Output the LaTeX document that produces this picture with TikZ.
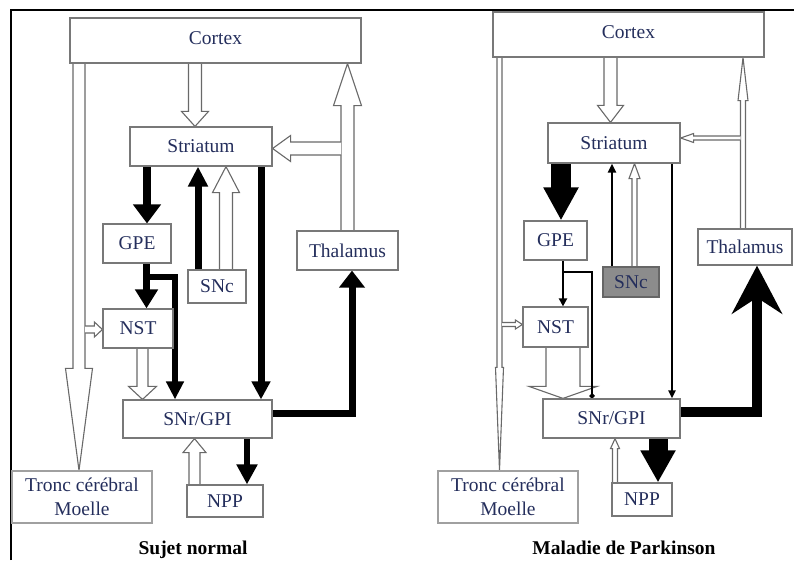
\documentclass[tikz,border=0pt]{standalone}
\usepackage{fontspec}
\setmainfont{Liberation Serif}
\usetikzlibrary{arrows.meta,calc,backgrounds}
\definecolor{boxgray}{RGB}{120,120,120}
\definecolor{lightbox}{RGB}{160,160,160}
\definecolor{arrgray}{RGB}{105,105,105}
\definecolor{navy}{RGB}{36,46,92}
\definecolor{sncgray}{RGB}{140,140,140}
\newcommand\nodefnt{\fontsize{19.5}{24}\selectfont}
\newcommand\capfnt{\fontsize{19.5}{24}\selectfont\bfseries}
\newcommand\hollowarrow[5]{%
  \coordinate (hs) at #1;
  \coordinate (ht) at #2;
  \coordinate (hh) at ($(ht)!#5!(hs)$);
  \draw[hol] ($(hs)!#3!90:(ht)$) -- ($(hh)!#3!90:(ht)$) -- ($(hh)!#4!90:(ht)$) -- (ht) -- ($(hh)!#4!-90:(ht)$) -- ($(hh)!#3!-90:(ht)$) -- ($(hs)!#3!-90:(ht)$);
}
\tikzset{
  box/.style={draw=boxgray, line width=1.2pt, fill=white, inner sep=0pt, text=navy, font=\nodefnt, align=center},
  hol/.style={draw=arrgray, fill=white, line width=1.1pt, line join=miter},
  blk/.style={draw=black, line join=miter, line cap=butt},
}
\begin{document}
\begin{tikzpicture}[x={(1pt,0)}, y={(0,-1pt)}]
\useasboundingbox (0,0) rectangle (794,560);
\draw[line width=2pt] (11,560) -- (11,10) -- (794,10);

% ---------------- left panel: nodes
\node[box, minimum width=291pt, minimum height=45pt] (ctxL) at (215.5,40.5) {\raisebox{4pt}{Cortex}};
\node[box, minimum width=142pt, minimum height=39pt] (strL) at (201,146.5) {Striatum};
\node[box, minimum width=68pt, minimum height=39pt] (gpeL) at (137,243.5) {GPE};
\node[box, minimum width=58pt, minimum height=33pt] (sncL) at (217,286.5) {SNc};
\node[box, minimum width=101pt, minimum height=39pt] (thalL) at (347.5,250.5) {Thalamus};
\node[box, minimum width=70pt, minimum height=39pt] (nstL) at (138,328.5) {NST};
\node[box, minimum width=149pt, minimum height=38pt] (snrL) at (197.5,419) {SNr/GPI};
\node[box, minimum width=76pt, minimum height=32pt] (nppL) at (225,501) {NPP};
\node[box, draw=lightbox, minimum width=140pt, minimum height=52pt] (troncL) at (82,497) {Tronc cérébral\\Moelle};

% ---------------- right panel: nodes
\node[box, minimum width=271pt, minimum height=45pt] (ctxR) at (628.5,34.5) {\raisebox{4pt}{Cortex}};
\node[box, minimum width=132pt, minimum height=40pt] (strR) at (614,143) {Striatum};
\node[box, minimum width=63pt, minimum height=39pt] (gpeR) at (555.5,240.5) {GPE};
\node[box, fill=sncgray, draw=black!60, minimum width=56pt, minimum height=30pt] (sncR) at (631,282) {SNc};
\node[box, minimum width=94pt, minimum height=36pt] (thalR) at (745,247) {Thalamus};
\node[box, minimum width=65pt, minimum height=40pt] (nstR) at (555.5,327) {NST};
\node[box, minimum width=137pt, minimum height=39pt] (snrR) at (611.5,418.5) {SNr/GPI};
\node[box, minimum width=60pt, minimum height=33pt] (nppR) at (642,499.5) {NPP};
\node[box, draw=lightbox, minimum width=140pt, minimum height=52pt] (troncR) at (508,497) {Tronc cérébral\\Moelle};

% captions
\node[font=\capfnt, anchor=base] (capL) at (193,554) {Sujet normal};
\node[font=\capfnt, anchor=base] (capR) at (624,554) {Maladie de Parkinson};

\begin{pgfonlayer}{background}
% ---------- left hollow arrows
\coordinate (a1) at ([xshift=-6pt]strL.north);
\hollowarrow{(ctxL.south -| a1)}{(a1)}{6.5pt}{13.5pt}{15pt}
\hollowarrow{(thalL.north)}{(thalL.north |- ctxL.south)}{6.5pt}{14pt}{42pt}
\coordinate (a3) at ([yshift=-2pt]strL.east);
\hollowarrow{($(thalL.north |- a3)+(-6.5,0)$)}{(a3)}{6.5pt}{13pt}{18pt}
\coordinate (a10) at ([xshift=-136.5pt]ctxL.south);
\hollowarrow{(a10)}{(troncL.north -| a10)}{6pt}{13.5pt}{102pt}
\coordinate (a11) at ([yshift=-1pt]nstL.west);
\hollowarrow{($(a11 -| a10)+(6,0)$)}{(a11)}{3.5pt}{7.5pt}{8pt}
\coordinate (a12) at ([xshift=4.5pt]nstL.south);
\hollowarrow{(a12)}{(snrL.north -| a12)}{5.5pt}{14pt}{13pt}
\coordinate (a6) at ([xshift=9pt]sncL.north);
\hollowarrow{(a6)}{(strL.south -| a6)}{6.5pt}{13.5pt}{26pt}
\coordinate (a15) at ([xshift=-30.5pt]nppL.north);
\hollowarrow{(a15)}{(snrL.south -| a15)}{5.5pt}{11.5pt}{14pt}
% ---------- left black arrows
\coordinate (a4) at ([xshift=10pt]gpeL.north);
\draw[blk, line width=8pt, -{Triangle[width=27pt,length=19pt]}] (strL.south -| a4) -- (a4);
\coordinate (a5) at ([xshift=-19pt]sncL.north);
\draw[blk, line width=7pt, -{Triangle[width=19pt,length=20pt]}] (a5) -- (strL.south -| a5);
\coordinate (a7) at ([xshift=60pt]strL.south);
\draw[blk, line width=7pt, -{Triangle[width=18pt,length=18pt]}] (a7) -- (snrL.north -| a7);
\coordinate (a8) at ([xshift=9.5pt]gpeL.south);
\draw[blk, line width=7pt, -{Triangle[width=22pt,length=19pt]}] (a8) -- (nstL.north -| a8);
\draw[blk, line width=6pt, -{Triangle[width=17pt,length=18pt]}] (a8) -- ++(0,13) -| ([xshift=-22.5pt]snrL.north);
\draw[blk, line width=7pt, -{Triangle[width=25pt,length=17pt]}] ([yshift=5.5pt]snrL.east) -| ([xshift=4.5pt]thalL.south);
\coordinate (a14) at ([xshift=22pt]nppL.north);
\draw[blk, line width=6pt, -{Triangle[width=20pt,length=20pt]}] (snrL.south -| a14) -- (a14);

% ---------- right hollow arrows
\coordinate (b1) at ([xshift=-3.5pt]strR.north);
\hollowarrow{(ctxR.south -| b1)}{(b1)}{6.5pt}{13pt}{17pt}
\coordinate (b2) at ([xshift=-2pt]thalR.north);
\hollowarrow{(b2)}{(ctxR.south -| b2)}{2.5pt}{5pt}{43pt}
\coordinate (b3) at ([yshift=5pt]strR.east);
\hollowarrow{($(b2 |- b3)+(-2.5,0)$)}{(b3)}{2pt}{4.5pt}{13pt}
\coordinate (b10) at ([xshift=-129pt]ctxR.south);
\hollowarrow{(b10)}{(troncR.north -| b10)}{2.5pt}{4pt}{103pt}
\coordinate (b11) at ([yshift=2.5pt]nstR.west);
\hollowarrow{($(b11 -| b10)+(2.5,0)$)}{(b11)}{2pt}{4.5pt}{7pt}
\coordinate (b12) at ([xshift=7.5pt]nstR.south);
\hollowarrow{(b12)}{(snrR.north -| b12)}{17pt}{34pt}{12pt}
\coordinate (b6) at ([xshift=3.5pt]sncR.north);
\hollowarrow{(b6)}{(strR.south -| b6)}{2.5pt}{5.5pt}{15pt}
\coordinate (b15) at ([xshift=-27pt]nppR.north);
\hollowarrow{(b15)}{(snrR.south -| b15)}{2.5pt}{4.5pt}{10pt}
% ---------- right black arrows
\coordinate (b4) at ([xshift=5.5pt]gpeR.north);
\draw[blk, line width=20pt, -{Triangle[width=33pt,length=33pt]}] (strR.south -| b4) -- (b4);
\coordinate (b5) at ([xshift=-19pt]sncR.north);
\draw[blk, line width=2.5pt, -{Triangle[width=8pt,length=9pt]}] (b5) -- (strR.south -| b5);
\coordinate (b7) at ([xshift=58pt]strR.south);
\draw[blk, line width=2pt, -{Triangle[width=7pt,length=8pt]}] (b7) -- (snrR.north -| b7);
\coordinate (b8) at ([xshift=7.5pt]gpeR.south);
\draw[blk, line width=2pt, -{Triangle[width=8pt,length=8pt]}] (b8) -- (nstR.north -| b8);
\draw[blk, line width=2pt, -{Circle[length=5pt]}] (b8) -- ++(0,11) -| ([xshift=-19.5pt]snrR.north);
\draw[blk, line width=10.5pt, -{Stealth[width=50pt,length=48pt,inset=16pt]}] ([yshift=6.5pt]snrR.east) -| ([xshift=12pt]thalR.south);
\coordinate (b14) at ([xshift=16pt]nppR.north);
\draw[blk, line width=19pt, -{Triangle[width=33pt,length=32pt]}] (snrR.south -| b14) -- (b14);
\end{pgfonlayer}
\end{tikzpicture}
\end{document}
